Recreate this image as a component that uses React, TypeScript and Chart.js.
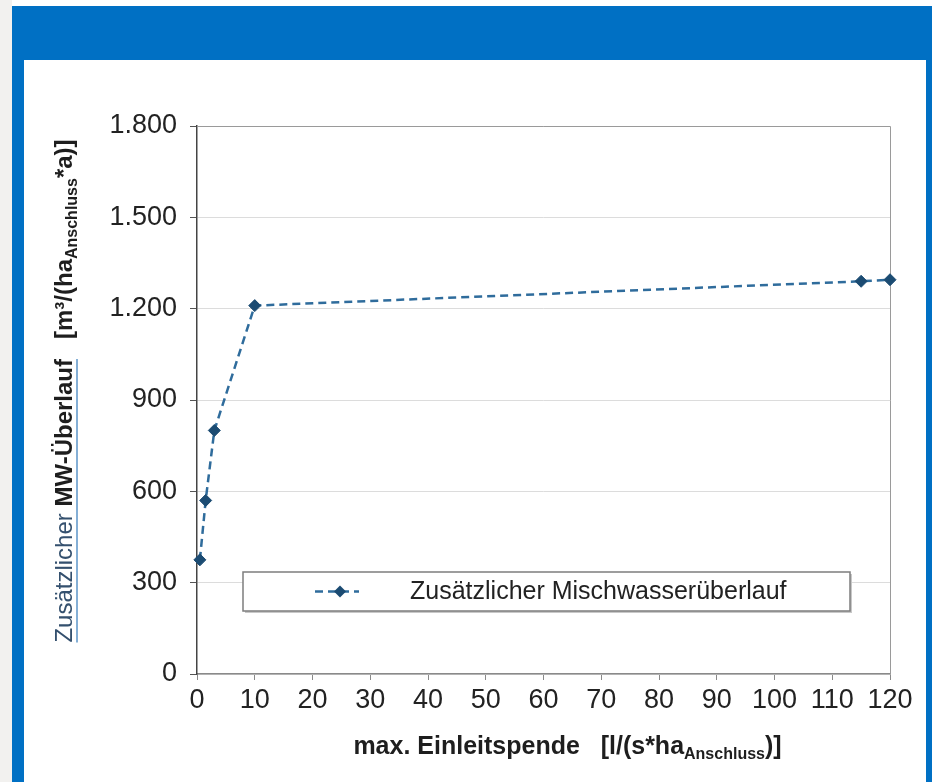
import React, { useEffect, useRef } from "react";
import { Chart, registerables } from "chart.js";

Chart.register(...registerables);

const seriesLabel = "Zusätzlicher Mischwasserüberlauf";
const xValues = [0.5, 1.5, 3, 10, 115, 120];
const yValues = [375, 570, 800, 1210, 1290, 1295];
const yTickLabels = ["0", "300", "600", "900", "1.200", "1.500", "1.800"];
const xTickLabels = ["0", "10", "20", "30", "40", "50", "60", "70", "80", "90", "100", "110", "120"];

const FONT = '"Liberation Sans", Arial, sans-serif';
const LINE_COLOR = "#2f6c9c";
const POINT_COLOR = "#1b4b72";

type Seg = { text: string; font: string; color: string; dy?: number };

function drawRich(ctx: CanvasRenderingContext2D, segs: Seg[], cx: number, cy: number) {
  let total = 0;
  const widths = segs.map((s) => {
    ctx.font = s.font;
    const w = ctx.measureText(s.text).width;
    total += w;
    return w;
  });
  let x = cx - total / 2;
  const starts: number[] = [];
  ctx.textBaseline = "alphabetic";
  ctx.textAlign = "left";
  segs.forEach((s, i) => {
    starts.push(x);
    ctx.font = s.font;
    ctx.fillStyle = s.color;
    ctx.fillText(s.text, x, cy + (s.dy || 0));
    x += widths[i];
  });
  return { starts, widths };
}

const decorPlugin = {
  id: "decor",
  beforeDatasetsDraw(chart: any) {
    const { ctx, chartArea } = chart;
    ctx.save();
    ctx.strokeStyle = "#9a9a9a";
    ctx.lineWidth = 1;
    ctx.beginPath();
    ctx.moveTo(chartArea.left, chartArea.top + 0.5);
    ctx.lineTo(chartArea.right + 0.5, chartArea.top + 0.5);
    ctx.lineTo(chartArea.right + 0.5, chartArea.bottom);
    ctx.stroke();
    ctx.restore();
  },
  afterDraw(chart: any) {
    const { ctx, chartArea } = chart;
    ctx.save();
    // Legend box
    const lx = chartArea.left + 46;
    const ly = chartArea.top + 446;
    const lw = 607;
    const lh = 39;
    ctx.fillStyle = "#c8c8c8";
    ctx.fillRect(lx + 2, ly + 2, lw, lh);
    ctx.fillStyle = "#ffffff";
    ctx.fillRect(lx, ly, lw, lh);
    ctx.strokeStyle = "#7d7d7d";
    ctx.lineWidth = 1.5;
    ctx.strokeRect(lx, ly, lw, lh);
    const my = ly + lh / 2;
    ctx.strokeStyle = LINE_COLOR;
    ctx.lineWidth = 2.5;
    ctx.setLineDash([8, 5]);
    ctx.beginPath();
    ctx.moveTo(lx + 72, my);
    ctx.lineTo(lx + 116, my);
    ctx.stroke();
    ctx.setLineDash([]);
    ctx.fillStyle = POINT_COLOR;
    ctx.beginPath();
    ctx.moveTo(lx + 97, my - 6);
    ctx.lineTo(lx + 103, my);
    ctx.lineTo(lx + 97, my + 6);
    ctx.lineTo(lx + 91, my);
    ctx.closePath();
    ctx.fill();
    ctx.fillStyle = "#222222";
    ctx.font = "25px " + FONT;
    ctx.textBaseline = "middle";
    ctx.textAlign = "left";
    ctx.fillText(chart.data.datasets[0].label, lx + 167, my + 1);

    // X axis title
    const bold = (s: number) => `bold ${s}px ${FONT}`;
    drawRich(
      ctx,
      [
        { text: "max. Einleitspende   [l/(s*ha", font: bold(25), color: "#1e1e1e" },
        { text: "Anschluss", font: bold(16), color: "#1e1e1e", dy: 5 },
        { text: ")]", font: bold(25), color: "#1e1e1e" },
      ],
      (chartArea.left + chartArea.right) / 2 + 24,
      chartArea.bottom + 80
    );

    // Y axis title (rotated)
    ctx.save();
    ctx.translate(48, chartArea.top + 265);
    ctx.rotate(-Math.PI / 2);
    const r = drawRich(
      ctx,
      [
        { text: "Zusätzlicher ", font: `24px ${FONT}`, color: "#34506e" },
        { text: "MW-Überlauf", font: bold(24), color: "#1e1e1e" },
        { text: "   [m³/(ha", font: bold(24), color: "#1e1e1e" },
        { text: "Anschluss", font: bold(16), color: "#1e1e1e", dy: 5 },
        { text: "*a)]", font: bold(24), color: "#1e1e1e" },
      ],
      0,
      0
    );
    ctx.strokeStyle = "#5b95c8";
    ctx.lineWidth = 1.5;
    ctx.beginPath();
    ctx.moveTo(r.starts[0], 5);
    ctx.lineTo(r.starts[1] + r.widths[1], 5);
    ctx.stroke();
    ctx.restore();

    ctx.restore();
  },
};

export default function App() {
  const ref = useRef<HTMLCanvasElement | null>(null);

  useEffect(() => {
    if (!ref.current) return;
    const chart = new Chart(ref.current, {
      type: "line",
      data: {
        datasets: [
          {
            label: seriesLabel,
            data: xValues.map((x, i) => ({ x, y: yValues[i] })),
            borderColor: LINE_COLOR,
            borderWidth: 2.5,
            borderDash: [8, 5],
            pointStyle: "rectRot",
            pointRadius: 6,
            pointBackgroundColor: POINT_COLOR,
            pointBorderColor: POINT_COLOR,
            pointBorderWidth: 1,
            fill: false,
            tension: 0,
            clip: false as any,
          },
        ],
      },
      options: {
        responsive: false,
        animation: false,
        layout: { padding: { top: 66, right: 36, left: 0, bottom: 0 } },
        plugins: { legend: { display: false }, tooltip: { enabled: false } },
        scales: {
          x: {
            type: "linear",
            min: 0,
            max: 120,
            afterBuildTicks: (scale: any) => {
              scale.ticks = xTickLabels.map((t) => ({ value: Number(t) }));
            },
            ticks: {
              color: "#222222",
              font: { size: 27, family: FONT },
              padding: 4,
              maxRotation: 0,
              autoSkip: false,
              callback: (_v: any, i: number) => xTickLabels[i],
            },
            grid: { drawOnChartArea: false, drawTicks: true, tickLength: 6, tickColor: "#8a8a8a", lineWidth: 1 },
            border: { color: "#8a8a8a", width: 1.5 },
            afterFit: (scale: any) => {
              scale.height = 108;
            },
          },
          y: {
            type: "linear",
            min: 0,
            max: 1800,
            afterBuildTicks: (scale: any) => {
              scale.ticks = yTickLabels.map((t) => ({ value: Number(t.replace(".", "")) }));
            },
            ticks: {
              color: "#222222",
              font: { size: 27, family: FONT },
              padding: 13,
              autoSkip: false,
              callback: (_v: any, i: number) => yTickLabels[i],
            },
            grid: { color: "#dcdcdc", lineWidth: 1, tickLength: 7, tickColor: "#555555" },
            border: { color: "#444444", width: 1.5 },
            afterFit: (scale: any) => {
              scale.width = 173;
            },
          },
        },
      },
      plugins: [decorPlugin],
    } as any);
    return () => chart.destroy();
  }, []);

  return (
    <div style={{ position: "absolute", left: 0, top: 0, width: 932, height: 782, background: "#ffffff", overflow: "hidden" }}>
      <div style={{ position: "absolute", left: 0, top: 0, width: 12, height: 782, background: "#f2f1ef" }} />
      <div style={{ position: "absolute", left: 12, top: 6, width: 920, height: 54, background: "#0070c4" }} />
      <div style={{ position: "absolute", left: 12, top: 60, width: 12, height: 722, background: "#0070c4" }} />
      <div style={{ position: "absolute", left: 926, top: 60, width: 6, height: 722, background: "#0070c4" }} />
      <canvas
        ref={ref}
        width={902}
        height={722}
        style={{ position: "absolute", left: 24, top: 60, width: 902, height: 722, display: "block" }}
      />
    </div>
  );
}
